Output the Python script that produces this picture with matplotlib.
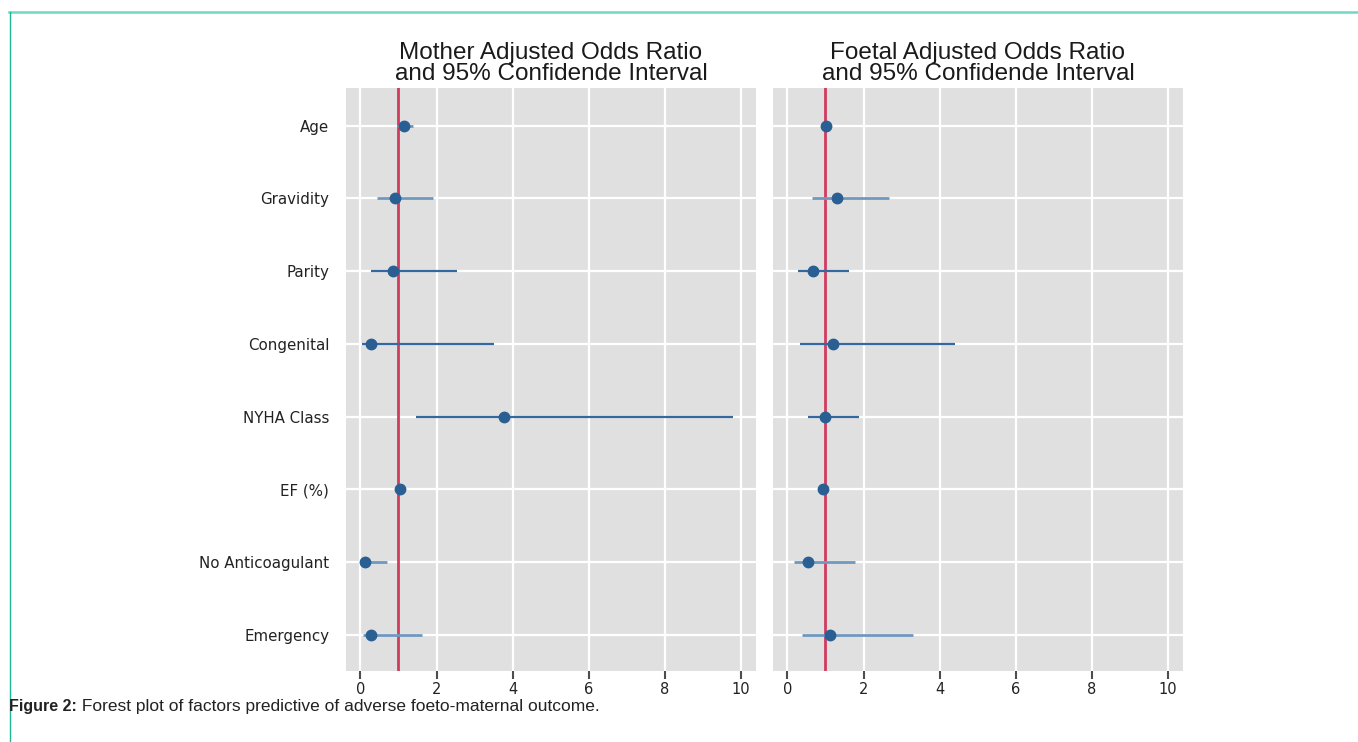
import matplotlib
matplotlib.use("Agg")
import matplotlib.pyplot as plt
from matplotlib.lines import Line2D

# ---------------- data ----------------
factors = ["Age", "Gravidity", "Parity", "Congenital", "NYHA Class",
           "EF (%)", "No Anticoagulant", "Emergency"]

mother_or = [1.14, 0.92, 0.85, 0.28, 3.78, 1.03, 0.13, 0.29]
mother_lo = [0.96, 0.44, 0.29, 0.03, 1.47, 0.98, 0.03, 0.06]
mother_hi = [1.38, 1.92, 2.55, 3.52, 9.80, 1.08, 0.70, 1.63]

foetal_or = [1.02, 1.30, 0.67, 1.21, 0.99, 0.94, 0.55, 1.13]
foetal_lo = [0.98, 0.64, 0.27, 0.34, 0.54, 0.90, 0.17, 0.39]
foetal_hi = [1.06, 2.67, 1.62, 4.41, 1.87, 0.98, 1.78, 3.30]

titles = ["Mother Adjusted Odds Ratio\nand 95% Confidende Interval",
          "Foetal Adjusted Odds Ratio\nand 95% Confidende Interval"]
xticks = [0, 2, 4, 6, 8, 10]
reference_or = 1.0
caption_bold = "Figure 2:"
caption_text = " Forest plot of factors predictive of adverse foeto-maternal outcome."

# ---------------- styling ----------------
W, H, DPI = 1358, 742, 100
fig = plt.figure(figsize=(W / DPI, H / DPI), dpi=DPI)
fig.patch.set_facecolor("white")

panel_bg = "#e0e0e0"
pt_color = "#2a5f93"
ci_light = "#6f98c0"
ci_dark = "#3369a0"
red = "#d13b5e"

# per-row CI shade (light = thicker pale lines in the reference)
shade_m = [ci_light, ci_light, ci_dark, ci_dark, ci_dark, ci_dark, ci_light, ci_light]
shade_f = [ci_light, ci_light, ci_dark, ci_dark, ci_dark, ci_dark, ci_light, ci_light]

bottom = 1 - 671 / H
top = 1 - 88 / H
height = top - bottom
positions = [(346 / W, bottom, 410 / W, height),
             (773 / W, bottom, 410 / W, height)]

datasets = [(mother_or, mother_lo, mother_hi, shade_m),
            (foetal_or, foetal_lo, foetal_hi, shade_f)]

ypos = list(range(len(factors)))

for i, (pos, (orv, lo, hi, shades)) in enumerate(zip(positions, datasets)):
    ax = fig.add_axes(pos)
    ax.set_facecolor(panel_bg)
    for s in ax.spines.values():
        s.set_visible(False)
    ax.set_xlim(-0.38, 10.4)
    ax.set_ylim(len(factors) - 0.5, -0.52)
    ax.set_xticks(xticks)
    ax.set_yticks(ypos)
    ax.grid(True, color="white", linewidth=1.6)
    ax.set_axisbelow(True)
    ax.tick_params(axis="x", direction="out", length=6, width=1.5,
                   color="#4d4d4d", labelsize=10.5, labelcolor="#222222", pad=2)
    if i == 0:
        ax.set_yticklabels(factors, fontsize=10.8, color="#222222",
                           family="DejaVu Sans")
        ax.tick_params(axis="y", length=0, pad=12)
    else:
        ax.set_yticklabels([])
        ax.tick_params(axis="y", length=0)

    ax.axvline(reference_or, color=red, linewidth=2, zorder=2)
    for y, o, l, h, c in zip(ypos, orv, lo, hi, shades):
        lw = 2.0 if c == ci_light else 1.6
        ax.plot([l, h], [y, y], color=c, linewidth=lw,
                solid_capstyle="butt", zorder=3)
    ax.plot(orv, ypos, "o", color=pt_color, markersize=7.5, zorder=4,
            linestyle="none")
    ax.set_title(titles[i], fontsize=17.5, family=["Liberation Sans"],
                 color="#1a1a1a", linespacing=0.92, pad=6)

# frame lines of the page (teal border)
fig.add_artist(Line2D([9 / W, 1.0], [1 - 12 / H, 1 - 12 / H],
                      transform=fig.transFigure, color="#6fd8c6", linewidth=1.8))
fig.add_artist(Line2D([9.5 / W, 9.5 / W], [0, 1 - 12 / H],
                      transform=fig.transFigure, color="#1fb79a", linewidth=1.0))

# caption
cap_y = 1 - 706 / H
t1 = fig.text(9 / W, cap_y, caption_bold, fontsize=11.5,
              fontweight="bold", family="Liberation Sans", va="center",
              color="#222222")
fig.canvas.draw()
bb = t1.get_window_extent()
fig.text(bb.x1 / W, cap_y, caption_text, fontsize=12.5,
         family="Liberation Sans", va="center", color="#222222")

fig.savefig("out.png", dpi=DPI, facecolor="white")
